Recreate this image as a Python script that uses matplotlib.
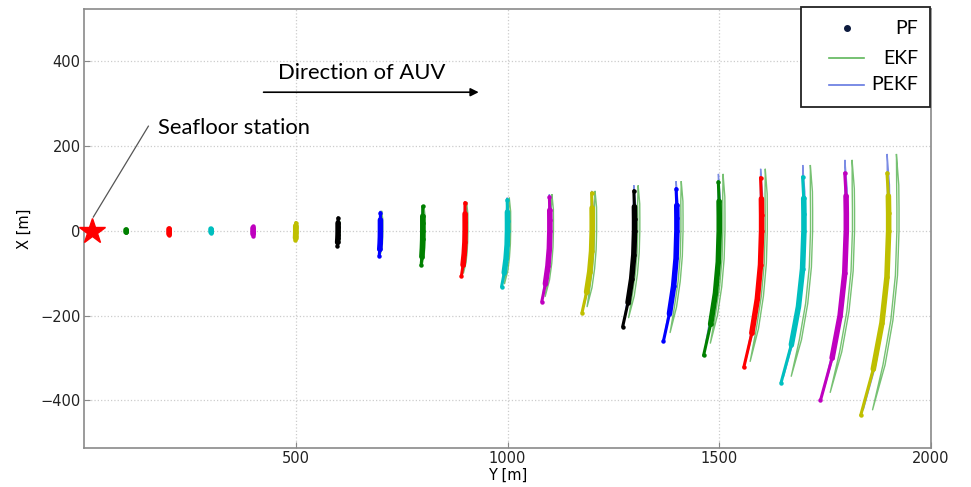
## PF / EKF / PEKF position estimates along the AUV track
import matplotlib.pyplot as plt
from matplotlib.lines import Line2D
from matplotlib.patches import Rectangle

# cluster positions along track (Y) and extents of the particle clouds (X) [m]
track_y = [100, 200, 300, 400, 500, 600, 700, 800, 900, 1000,
           1100, 1200, 1300, 1400, 1500, 1600, 1700, 1800, 1900]
pf_top = [4, 6, 5, 12, 19, 30, 42, 57, 66, 73,
          80, 89, 94, 99, 115, 125, 127, 136, 136]
pf_bot = [-4, -10, -5, -12, -23, -37, -59, -82, -108, -132,
          -167, -193, -226, -261, -294, -322, -358, -400, -435]
pf_bend = [0, 0, 0, 0, 1, 2, 3, 4, 9, 14,
           19, 24, 28, 32, 37, 42, 54, 61, 66]

# filter ellipses (PEKF), EKF drawn with an along-track offset
kf_top = [4, 6, 5, 11, 19, 30, 45, 57, 66, 76,
          84, 92, 105, 115, 132, 144, 153, 165, 179]
kf_bot = [-4, -9, -5, -11, -20, -33, -55, -78, -100, -125,
          -155, -179, -205, -240, -265, -308, -343, -381, -422]
kf_bend = [0, 0, 0, 0, 1, 2, 3, 4, 8, 12,
           17, 20, 24, 28, 32, 38, 48, 55, 60]
ekf_shift = [0, 0, 0, 1, 2, 2, 3, 3, 4, 5,
             6, 8, 10, 12, 11, 11, 18, 17, 22]

# shape of the arcs: fraction of extent (+ up / - down) and fraction of bend
prof_f = [1.0, 0.6, 0.3, 0.0, -0.25, -0.5, -0.75, -1.0]
prof_g = [0.06, 0.01, 0.0, 0.0, 0.06, 0.24, 0.55, 1.0]
prof_w = [0, 1, 1, 1, 1, 1, 1, 0]

station = (18, 0)
cycle = ['#0000ff', '#008000', '#ff0000', '#00bfbf', '#bf00bf', '#bfbf00', '#000000']
ekf_col = '#5fb65a'
pekf_col = '#6478e0'
pf_col = '#0d1b3e'


def arc(yc, top, bot, bend):
    xs = [f * top if f >= 0 else -f * bot for f in prof_f]
    ys = [yc - bend * g for g in prof_g]
    return ys, xs


def loop(ys, xs, w):
    right = [y + w * k for y, k in zip(ys, prof_w)]
    left = [y - w * k for y, k in zip(ys, prof_w)]
    return right + left[::-1] + [right[0]], xs + xs[::-1] + [xs[0]]


plt.rcParams['font.family'] = ['DejaVu Sans']
W, H = 971, 487
fig = plt.figure(figsize=(W / 100, H / 100), dpi=100)
ax = fig.add_axes([84 / W, 1 - 448 / H, (931 - 84) / W, (448 - 9) / H])

for i, yc in enumerate(track_y):
    c = cycle[(i + 1) % 7]
    ky, kx = arc(yc, kf_top[i], kf_bot[i], kf_bend[i])
    if yc >= 500:
        ly, lx = loop(ky, kx, 2.5)
        ax.plot([v + ekf_shift[i] for v in ly], lx, color=ekf_col, lw=1.0, alpha=0.85, zorder=2)
        ax.plot(ly, lx, color=pekf_col, lw=1.0, alpha=0.85, zorder=2)
    py, px = arc(yc, pf_top[i], pf_bot[i], pf_bend[i])
    ax.plot(py, px, color=c, lw=2.2, solid_capstyle='round', zorder=3)
    ax.plot(py[1:-1], px[1:-1], color=c, lw=4.0, solid_capstyle='round', zorder=3)
    ax.plot(py, px, 'o', color=c, ms=3.2, mec='none', zorder=3)

ax.plot(*station, marker='*', color='red', ms=19, mec='red', zorder=6, clip_on=False)

ax.plot([22, 152], [32, 246], color='#555555', lw=0.9, zorder=4)
ax.text(174, 241, 'Seafloor station', fontsize=15.8, family='Lato', va='center', ha='left')
ax.annotate('', xy=(932, 326), xytext=(424, 326),
            arrowprops=dict(arrowstyle='-|>', color='black', lw=1.2, mutation_scale=12,
                            shrinkA=0, shrinkB=0))
ax.text(656, 371, 'Direction of AUV', fontsize=15.8, family='Lato', ha='center', va='center')

ax.set_xlim(0, 2000)
ax.set_ylim(-512, 522)
ax.set_xticks([500, 1000, 1500, 2000])
ax.set_yticks([-400, -200, 0, 200, 400])
ax.grid(True, color='#cccccc', linestyle=':', linewidth=0.9)
ax.tick_params(direction='in', length=4, color='#888888', labelsize=10.5, labelcolor='#222222', pad=2.5)
for s in ax.spines.values():
    s.set_color('#8a8a8a')
    s.set_linewidth(1.2)
ax.set_xlabel('Y [m]', fontsize=10.5, labelpad=1)
ax.set_ylabel('X [m]', fontsize=10.5, labelpad=6)

# legend box, text right aligned like the original
tf = fig.transFigure
fig.add_artist(Rectangle((801 / W, 1 - 107 / H), 129 / W, 100 / H, transform=tf,
                         facecolor='white', edgecolor='#222222', lw=1.3, zorder=5))
labels = ['PF', 'EKF', 'PEKF']
rows = [28, 58, 85]
for lab, r in zip(labels, rows):
    yy = 1 - r / H
    if lab == 'PF':
        fig.add_artist(Line2D([847 / W], [yy], marker='o', ms=4, color=pf_col, transform=tf, zorder=6))
    else:
        col = ekf_col if lab == 'EKF' else pekf_col
        fig.add_artist(Line2D([829 / W, 864 / W], [yy, yy], color=col, lw=1.2, transform=tf, zorder=6))
    fig.text(918 / W, yy, lab, ha='right', va='center', fontsize=14, family='Lato', zorder=6)

fig.savefig('out.png', dpi=100)
